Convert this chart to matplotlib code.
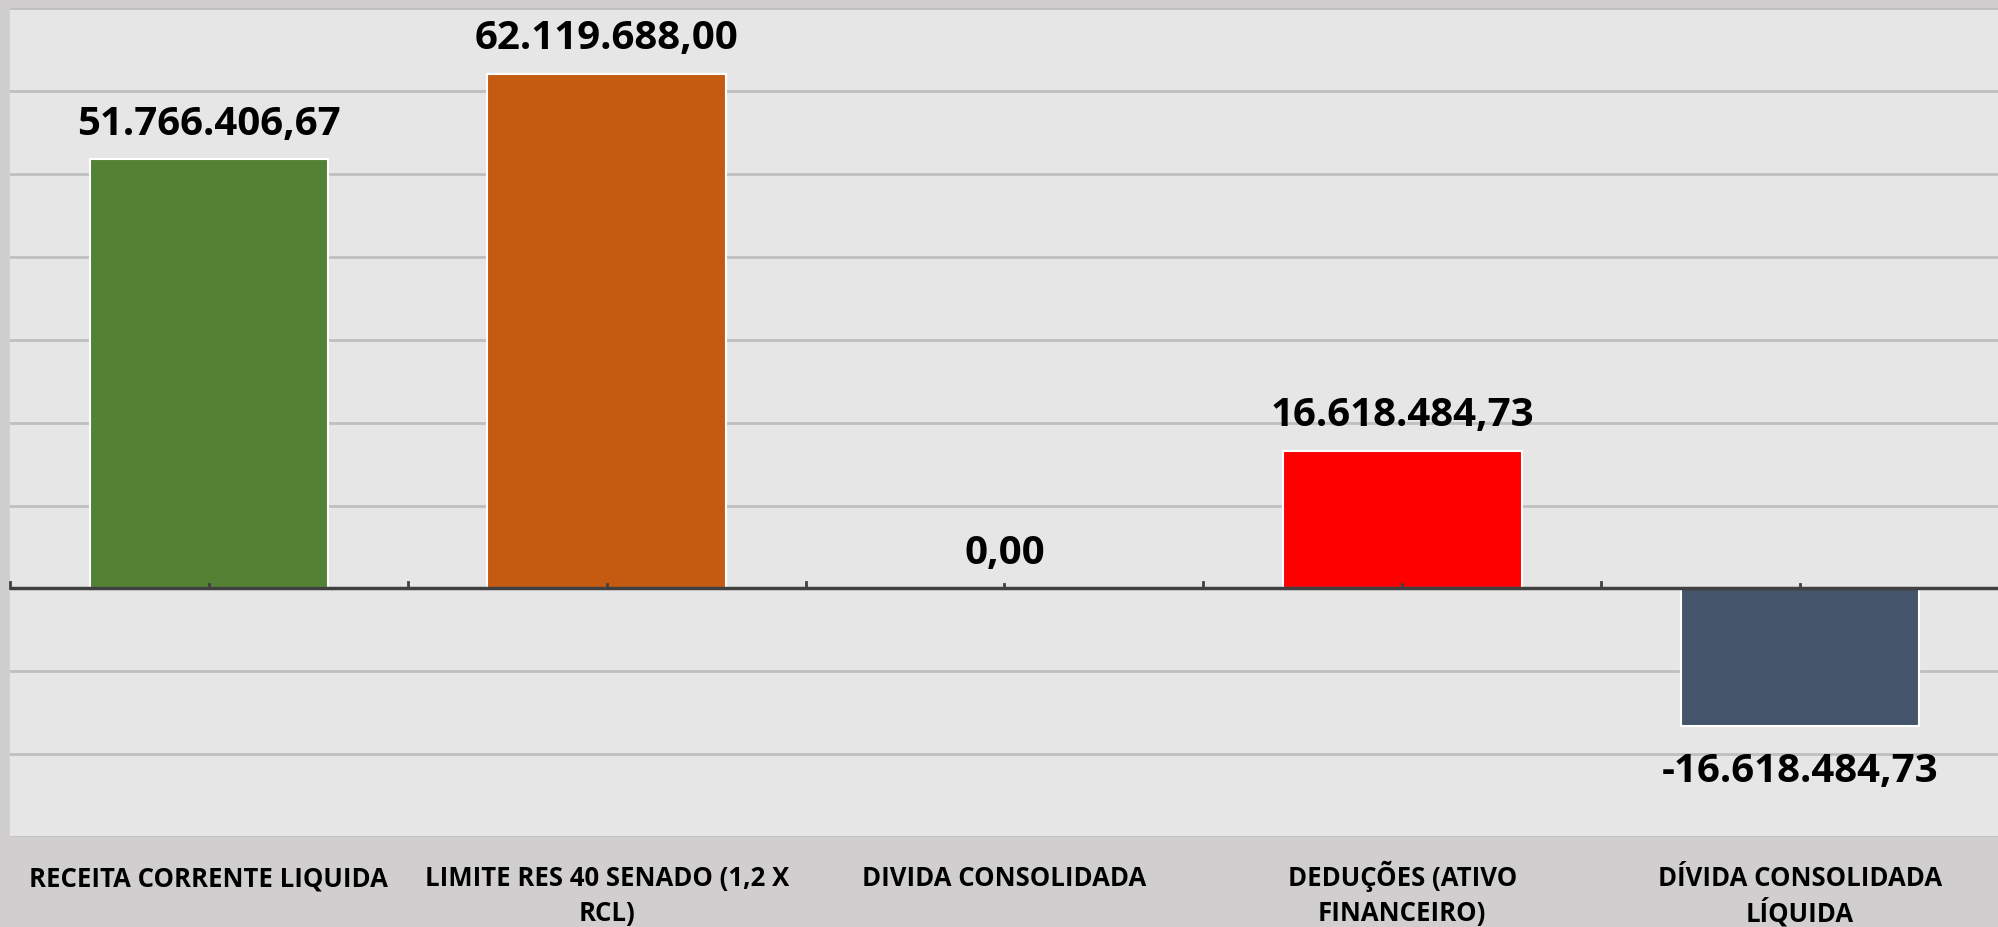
import matplotlib.pyplot as plt
from matplotlib.ticker import MultipleLocator
from matplotlib.transforms import blended_transform_factory

categories = [
    "RECEITA CORRENTE LIQUIDA",
    "LIMITE RES 40 SENADO (1,2 X\nRCL)",
    "DIVIDA CONSOLIDADA",
    "DEDUÇÕES (ATIVO\nFINANCEIRO)",
    "DÍVIDA CONSOLIDADA\nLÍQUIDA",
]
values = [51766406.67, 62119688.00, 0.00, 16618484.73, -16618484.73]
labels = ["51.766.406,67", "62.119.688,00", "0,00", "16.618.484,73", "-16.618.484,73"]
colors = ["#548235", "#c55a11", "#a5a5a5", "#ff0000", "#44546a"]

plt.rcParams['font.family'] = ['Open Sans', 'DejaVu Sans']

fig = plt.figure(figsize=(19.99, 9.28), dpi=100)
fig.patch.set_facecolor("#d0cece")
ax = fig.add_axes([0.005, 0.097, 0.995, 0.893])
ax.set_facecolor("#e7e6e6")

x = list(range(len(categories)))
bars = ax.bar(x, values, width=0.6, color=colors, edgecolor="white", linewidth=1.5, zorder=3)

ax.set_xlim(-0.5, len(categories) - 0.5)
ax.set_ylim(-30e6, 70e6)

# grade horizontal
ax.yaxis.set_major_locator(MultipleLocator(10e6))
ax.grid(axis="y", color="#bfbfbf", linewidth=2, zorder=0)
ax.tick_params(axis="y", left=False, labelleft=False)
ax.tick_params(axis="x", bottom=False, labelbottom=False)
ax.axhline(0, color="#404040", linewidth=2.5, zorder=4)

for s in ax.spines.values():
    s.set_visible(False)

# ticks no eixo zero
for xb in [i - 0.5 for i in range(len(categories) + 1)]:
    ax.plot([xb, xb], [0, 0.8e6], color="#404040", linewidth=2, zorder=4, clip_on=False)
for xc in x:
    ax.plot([xc, xc], [0, 0.5e6], color="#404040", linewidth=2, zorder=4)

# rotulos das categorias (linha por linha, alinhados pela base)
trans = blended_transform_factory(ax.transData, fig.transFigure)
line_y = [0.045, 0.0075]
for xi, cat in zip(x, categories):
    for k, line in enumerate(cat.split("\n")):
        ax.text(xi, line_y[k], line, transform=trans, ha="center", va="baseline",
                fontsize=18.5, fontweight="bold", color="black", clip_on=False)

# rotulos dos valores
for xi, v, lab in zip(x, values, labels):
    off = 26 if v >= 0 else -32
    ax.annotate(lab, (xi, v), xytext=(0, off), textcoords="offset points",
                ha="center", va="center", fontsize=29, fontweight="bold", color="black", zorder=5)

fig.savefig("out.png", dpi=100, facecolor=fig.get_facecolor())
